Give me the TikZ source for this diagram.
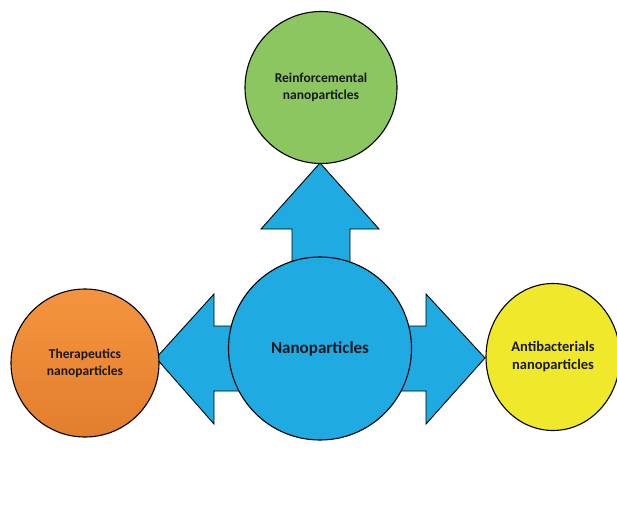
\documentclass[tikz,border=0pt]{standalone}
\usepackage{fontspec}
\setmainfont{Carlito}
\usetikzlibrary{shapes.geometric}
\definecolor{npblue}{RGB}{31,170,226}
\definecolor{npgreen}{RGB}{140,198,96}
\definecolor{nporangetop}{RGB}{245,148,64}
\definecolor{nporangebot}{RGB}{226,126,44}
\definecolor{npyellow}{RGB}{240,232,42}
\definecolor{nptext}{RGB}{25,25,30}
\begin{document}
\begin{tikzpicture}[x=1pt,y=-1pt,
  bubble/.style={circle, draw=black, line width=1.1pt, inner sep=0pt, align=center,
    text=nptext, font=\bfseries\fontsize{13.5}{17}\selectfont},
  bigarrow/.style={fill=npblue, draw=black, line width=0.9pt, line join=miter}]
\useasboundingbox (0,0) rectangle (617,521);
\fill[white] (0,0) rectangle (617,521);
% arrows (behind the circles)
\draw[bigarrow] (320,163) -- (379,229) -- (350,229) -- (350,300) -- (292,300) -- (292,229) -- (261,229) -- cycle;
\draw[bigarrow] (156,358) -- (214,294) -- (214,326) -- (270,326) -- (270,391) -- (214,391) -- (214,424) -- cycle;
\draw[bigarrow] (485,358) -- (426,294) -- (426,326) -- (370,326) -- (370,391) -- (426,391) -- (426,424) -- cycle;
% circles
\node[bubble, fill=npblue, minimum size=183pt, font=\bfseries\fontsize{17}{20}\selectfont] (nano) at (320,348.5) {Nanoparticles};
\node[bubble, fill=npgreen, minimum size=152pt] (reinf) at (321,87.5) {Reinforcemental\\nanoparticles};
\node[bubble, top color=nporangetop, bottom color=nporangebot, minimum size=148pt] (thera) at (85,363) {Therapeutics\\nanoparticles};
\node[bubble, ellipse, fill=npyellow, minimum width=134pt, minimum height=147pt, font=\bfseries\fontsize{14.5}{18}\selectfont] (anti) at (553,357) {Antibacterials\\nanoparticles};
\end{tikzpicture}
\end{document}
